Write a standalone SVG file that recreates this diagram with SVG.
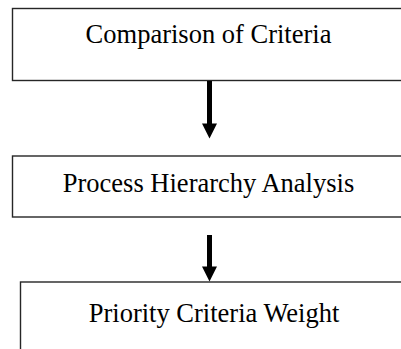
<svg xmlns="http://www.w3.org/2000/svg" width="401" height="349" viewBox="0 0 401 349">
  <style>
    .box { fill: #ffffff; stroke: #262626; stroke-width: 1.4; }
    .label { font-family: "Liberation Serif", "Times New Roman", serif; font-size: 26.5px; fill: #000000; text-anchor: middle; }
    .shaft { stroke: #000000; stroke-width: 5; }
    .head { fill: #000000; }
  </style>
  <rect width="401" height="349" fill="#ffffff"/>
  <g id="node-comparison">
    <rect class="box" x="12.5" y="8.5" width="400" height="72"/>
    <text class="label" x="208.5" y="43">Comparison of Criteria</text>
  </g>
  <g id="node-process">
    <rect class="box" x="12.5" y="156" width="400" height="61"/>
    <text class="label" x="208.5" y="192">Process Hierarchy Analysis</text>
  </g>
  <g id="node-priority">
    <rect class="box" x="20.5" y="282" width="400" height="80"/>
    <text class="label" x="214" y="321.5">Priority Criteria Weight</text>
  </g>
  <g id="connectors">
    <line class="shaft" x1="209.5" y1="81" x2="209.5" y2="125"/>
    <polygon class="head" points="202,123.5 217,123.5 209.5,138.5"/>
    <line class="shaft" x1="209.5" y1="235" x2="209.5" y2="268"/>
    <polygon class="head" points="202,266.5 217,266.5 209.5,281.5"/>
  </g>
</svg>
